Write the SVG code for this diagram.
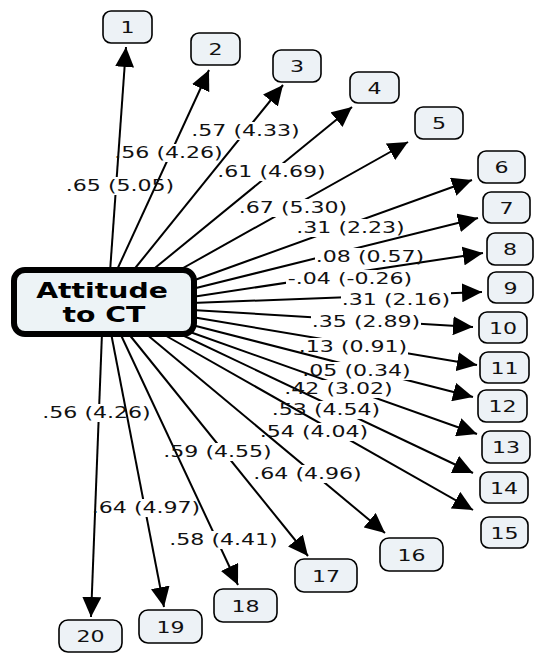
<svg xmlns="http://www.w3.org/2000/svg" width="537" height="653" viewBox="0 0 537 653">
<style>
.edge{stroke:#000;stroke-width:2;fill:none;marker-end:url(#ah)}
.lbl{font-family:"DejaVu Sans","Verdana",sans-serif;font-size:16px;fill:#111;text-anchor:middle}
.box rect{fill:#edf2f6;stroke:#000;stroke-width:1.6}
.box text{font-family:"DejaVu Sans","Verdana",sans-serif;font-size:16px;fill:#111;text-anchor:middle}
.main rect{fill:#edf3f6;stroke:#000;stroke-width:6}
.main text{font-family:"DejaVu Sans","Verdana",sans-serif;font-weight:bold;font-size:20.5px;fill:#000;text-anchor:middle}
.mw{fill:#fff}
.mb{fill:#000}
</style>
<defs>
<marker id="ah" markerUnits="userSpaceOnUse" markerWidth="20" markerHeight="19" viewBox="0 0 20 19" refX="20" refY="9.5" orient="auto"><path d="M0,0 L20,9.5 L0,19 z" fill="#000"/></marker>
<mask id="k1" maskUnits="userSpaceOnUse" x="0" y="0" width="537" height="653"><rect class="mw" width="537" height="653"/><rect class="mb" x="65" y="177" width="110" height="18"/></mask>
<mask id="k2" maskUnits="userSpaceOnUse" x="0" y="0" width="537" height="653"><rect class="mw" width="537" height="653"/><rect class="mb" x="113.5" y="144" width="110" height="18"/></mask>
<mask id="k3" maskUnits="userSpaceOnUse" x="0" y="0" width="537" height="653"><rect class="mw" width="537" height="653"/><rect class="mb" x="190.5" y="122" width="110" height="18"/></mask>
<mask id="k4" maskUnits="userSpaceOnUse" x="0" y="0" width="537" height="653"><rect class="mw" width="537" height="653"/><rect class="mb" x="216.5" y="163" width="110" height="18"/></mask>
<mask id="k5" maskUnits="userSpaceOnUse" x="0" y="0" width="537" height="653"><rect class="mw" width="537" height="653"/><rect class="mb" x="238" y="199" width="110" height="18"/></mask>
<mask id="k6" maskUnits="userSpaceOnUse" x="0" y="0" width="537" height="653"><rect class="mw" width="537" height="653"/><rect class="mb" x="295.5" y="219" width="110" height="18"/></mask>
<mask id="k7" maskUnits="userSpaceOnUse" x="0" y="0" width="537" height="653"><rect class="mw" width="537" height="653"/><rect class="mb" x="315" y="248" width="110" height="18"/></mask>
<mask id="k8" maskUnits="userSpaceOnUse" x="0" y="0" width="537" height="653"><rect class="mw" width="537" height="653"/><rect class="mb" x="286" y="270" width="128" height="18"/></mask>
<mask id="k9" maskUnits="userSpaceOnUse" x="0" y="0" width="537" height="653"><rect class="mw" width="537" height="653"/><rect class="mb" x="341" y="291" width="110" height="18"/></mask>
<mask id="k10" maskUnits="userSpaceOnUse" x="0" y="0" width="537" height="653"><rect class="mw" width="537" height="653"/><rect class="mb" x="311" y="313" width="110" height="18"/></mask>
<mask id="k11" maskUnits="userSpaceOnUse" x="0" y="0" width="537" height="653"><rect class="mw" width="537" height="653"/><rect class="mb" x="298" y="338" width="110" height="18"/></mask>
<mask id="k12" maskUnits="userSpaceOnUse" x="0" y="0" width="537" height="653"><rect class="mw" width="537" height="653"/><rect class="mb" x="301.5" y="362" width="110" height="18"/></mask>
<mask id="k13" maskUnits="userSpaceOnUse" x="0" y="0" width="537" height="653"><rect class="mw" width="537" height="653"/><rect class="mb" x="283.5" y="380" width="110" height="18"/></mask>
<mask id="k14" maskUnits="userSpaceOnUse" x="0" y="0" width="537" height="653"><rect class="mw" width="537" height="653"/><rect class="mb" x="271" y="401" width="110" height="18"/></mask>
<mask id="k15" maskUnits="userSpaceOnUse" x="0" y="0" width="537" height="653"><rect class="mw" width="537" height="653"/><rect class="mb" x="259" y="423" width="110" height="18"/></mask>
<mask id="k16" maskUnits="userSpaceOnUse" x="0" y="0" width="537" height="653"><rect class="mw" width="537" height="653"/><rect class="mb" x="252.5" y="465" width="110" height="18"/></mask>
<mask id="k17" maskUnits="userSpaceOnUse" x="0" y="0" width="537" height="653"><rect class="mw" width="537" height="653"/><rect class="mb" x="162.5" y="443" width="110" height="18"/></mask>
<mask id="k18" maskUnits="userSpaceOnUse" x="0" y="0" width="537" height="653"><rect class="mw" width="537" height="653"/><rect class="mb" x="168.5" y="531" width="110" height="18"/></mask>
<mask id="k19" maskUnits="userSpaceOnUse" x="0" y="0" width="537" height="653"><rect class="mw" width="537" height="653"/><rect class="mb" x="91" y="499" width="110" height="18"/></mask>
<mask id="k20" maskUnits="userSpaceOnUse" x="0" y="0" width="537" height="653"><rect class="mw" width="537" height="653"/><rect class="mb" x="41.5" y="404" width="110" height="18"/></mask>
</defs>
<rect width="537" height="653" fill="#fff"/>
<g id="connectors">
<line class="edge" mask="url(#k1)" x1="110" y1="272" x2="126" y2="47"/>
<line class="edge" mask="url(#k2)" x1="116" y1="272" x2="209" y2="70"/>
<line class="edge" mask="url(#k3)" x1="132" y1="272" x2="283" y2="85"/>
<line class="edge" mask="url(#k4)" x1="150" y1="272" x2="352" y2="107"/>
<line class="edge" mask="url(#k5)" x1="176" y1="272" x2="408" y2="142"/>
<line class="edge" mask="url(#k6)" x1="192" y1="281" x2="472" y2="180"/>
<line class="edge" mask="url(#k7)" x1="192" y1="289" x2="478" y2="218"/>
<line class="edge" mask="url(#k8)" x1="192" y1="297" x2="483" y2="253"/>
<line class="edge" mask="url(#k9)" x1="192" y1="303" x2="482" y2="292"/>
<line class="edge" mask="url(#k10)" x1="192" y1="310" x2="473" y2="327"/>
<line class="edge" mask="url(#k11)" x1="192" y1="317" x2="477" y2="365"/>
<line class="edge" mask="url(#k12)" x1="192" y1="325" x2="473" y2="397"/>
<line class="edge" mask="url(#k13)" x1="190" y1="332" x2="477" y2="434"/>
<line class="edge" mask="url(#k14)" x1="178" y1="333" x2="473" y2="473"/>
<line class="edge" mask="url(#k15)" x1="161" y1="333" x2="473" y2="510"/>
<line class="edge" mask="url(#k16)" x1="145" y1="333" x2="385" y2="533"/>
<line class="edge" mask="url(#k17)" x1="128" y1="333" x2="308" y2="556"/>
<line class="edge" mask="url(#k18)" x1="120" y1="333" x2="238" y2="585"/>
<line class="edge" mask="url(#k19)" x1="111" y1="333" x2="164" y2="607"/>
<line class="edge" mask="url(#k20)" x1="102" y1="333" x2="91" y2="617"/>
<text class="lbl" transform="translate(120,191) scale(1.38,1)">.65 (5.05)</text>
<text class="lbl" transform="translate(168.5,158) scale(1.38,1)">.56 (4.26)</text>
<text class="lbl" transform="translate(245.5,136) scale(1.38,1)">.57 (4.33)</text>
<text class="lbl" transform="translate(271.5,177) scale(1.38,1)">.61 (4.69)</text>
<text class="lbl" transform="translate(293,213) scale(1.38,1)">.67 (5.30)</text>
<text class="lbl" transform="translate(350.5,233) scale(1.38,1)">.31 (2.23)</text>
<text class="lbl" transform="translate(370,262) scale(1.38,1)">.08 (0.57)</text>
<text class="lbl" transform="translate(350,284) scale(1.38,1)">-.04 (-0.26)</text>
<text class="lbl" transform="translate(396,305) scale(1.38,1)">.31 (2.16)</text>
<text class="lbl" transform="translate(366,327) scale(1.38,1)">.35 (2.89)</text>
<text class="lbl" transform="translate(353,352) scale(1.38,1)">.13 (0.91)</text>
<text class="lbl" transform="translate(356.5,376) scale(1.38,1)">.05 (0.34)</text>
<text class="lbl" transform="translate(338.5,394) scale(1.38,1)">.42 (3.02)</text>
<text class="lbl" transform="translate(326,415) scale(1.38,1)">.53 (4.54)</text>
<text class="lbl" transform="translate(314,437) scale(1.38,1)">.54 (4.04)</text>
<text class="lbl" transform="translate(307.5,479) scale(1.38,1)">.64 (4.96)</text>
<text class="lbl" transform="translate(217.5,457) scale(1.38,1)">.59 (4.55)</text>
<text class="lbl" transform="translate(223.5,545) scale(1.38,1)">.58 (4.41)</text>
<text class="lbl" transform="translate(146,513) scale(1.38,1)">.64 (4.97)</text>
<text class="lbl" transform="translate(96.5,418) scale(1.38,1)">.56 (4.26)</text>
</g>
<g id="attitude" class="main">
<rect x="14" y="270" width="180" height="64" rx="11"/>
<text transform="translate(102,298) scale(1.38,1)">Attitude</text>
<text transform="translate(104,322) scale(1.38,1)">to CT</text>
</g>
<g id="n1" class="box"><rect x="103" y="11" width="49" height="32" rx="8"/><text transform="translate(127.5,33) scale(1.38,1)">1</text></g>
<g id="n2" class="box"><rect x="191" y="33" width="49" height="32" rx="8"/><text transform="translate(215.5,55) scale(1.38,1)">2</text></g>
<g id="n3" class="box"><rect x="273" y="50" width="48" height="32" rx="8"/><text transform="translate(297,72) scale(1.38,1)">3</text></g>
<g id="n4" class="box"><rect x="350" y="72" width="49" height="31" rx="8"/><text transform="translate(374.5,93.5) scale(1.38,1)">4</text></g>
<g id="n5" class="box"><rect x="415" y="107" width="48" height="32" rx="8"/><text transform="translate(439,129) scale(1.38,1)">5</text></g>
<g id="n6" class="box"><rect x="478" y="151" width="47" height="32" rx="8"/><text transform="translate(501.5,173) scale(1.38,1)">6</text></g>
<g id="n7" class="box"><rect x="483" y="192" width="47" height="31" rx="8"/><text transform="translate(506.5,213.5) scale(1.38,1)">7</text></g>
<g id="n8" class="box"><rect x="487" y="233" width="46" height="32" rx="8"/><text transform="translate(510,255) scale(1.38,1)">8</text></g>
<g id="n9" class="box"><rect x="488" y="272" width="45" height="31" rx="8"/><text transform="translate(510.5,293.5) scale(1.38,1)">9</text></g>
<g id="n10" class="box"><rect x="479" y="312" width="48" height="31" rx="8"/><text transform="translate(503,333.5) scale(1.38,1)">10</text></g>
<g id="n11" class="box"><rect x="480" y="352" width="49" height="31" rx="8"/><text transform="translate(504.5,373.5) scale(1.38,1)">11</text></g>
<g id="n12" class="box"><rect x="478" y="390" width="49" height="32" rx="8"/><text transform="translate(502.5,412) scale(1.38,1)">12</text></g>
<g id="n13" class="box"><rect x="482" y="431" width="48" height="32" rx="8"/><text transform="translate(506,453) scale(1.38,1)">13</text></g>
<g id="n14" class="box"><rect x="480" y="472" width="48" height="31" rx="8"/><text transform="translate(504,493.5) scale(1.38,1)">14</text></g>
<g id="n15" class="box"><rect x="481" y="517" width="47" height="31" rx="8"/><text transform="translate(504.5,538.5) scale(1.38,1)">15</text></g>
<g id="n16" class="box"><rect x="380" y="538" width="63" height="33" rx="9"/><text transform="translate(411.5,560.5) scale(1.38,1)">16</text></g>
<g id="n17" class="box"><rect x="295" y="559" width="62" height="33" rx="9"/><text transform="translate(326,581.5) scale(1.38,1)">17</text></g>
<g id="n18" class="box"><rect x="214" y="589" width="63" height="33" rx="9"/><text transform="translate(245.5,611.5) scale(1.38,1)">18</text></g>
<g id="n19" class="box"><rect x="139" y="610" width="63" height="33" rx="9"/><text transform="translate(170.5,632.5) scale(1.38,1)">19</text></g>
<g id="n20" class="box"><rect x="59" y="620" width="63" height="32" rx="9"/><text transform="translate(90.5,642) scale(1.38,1)">20</text></g>
</svg>
